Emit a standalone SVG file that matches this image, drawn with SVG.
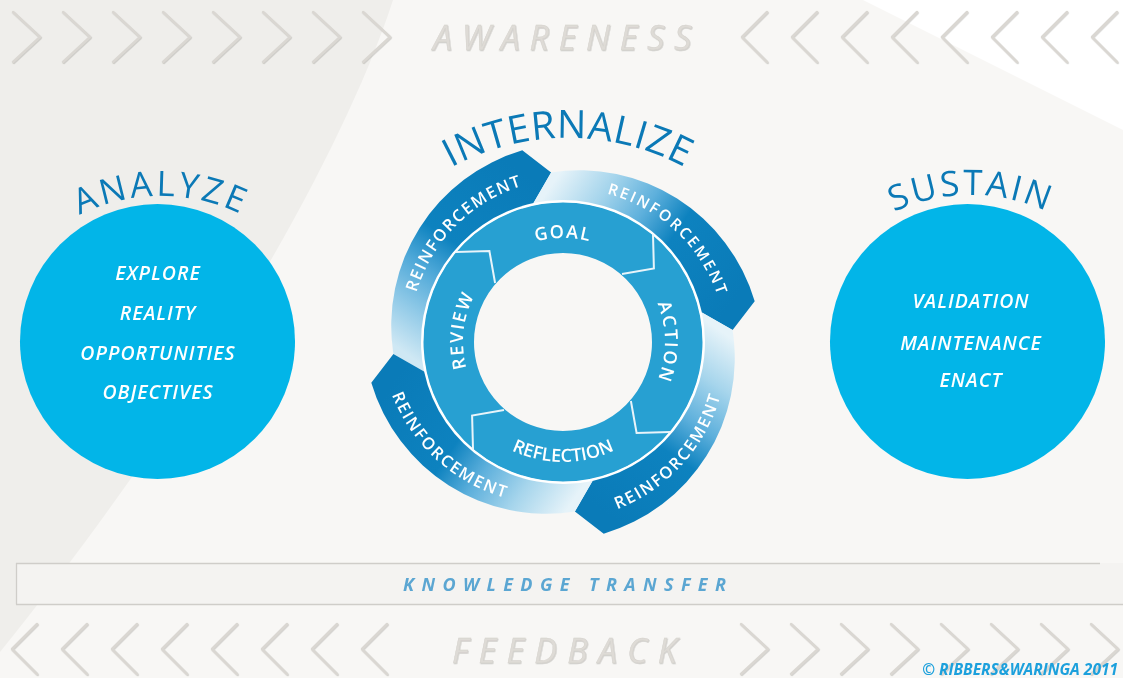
<svg xmlns="http://www.w3.org/2000/svg" xmlns:xlink="http://www.w3.org/1999/xlink" width="1123" height="678" viewBox="0 0 1123 678">
<defs>
<style>
.f{font-family:'Open Sans','Noto Sans','DejaVu Sans',sans-serif}
.chev{fill:none;stroke:#dad7d2;stroke-width:2.5;stroke-linecap:round;stroke-linejoin:round}
.ghost{font-family:'Open Sans','Noto Sans',sans-serif;font-style:italic;font-size:34px;fill:#dedbd6;stroke:#d3d0cb;stroke-width:0.4}
.title{font-family:'Open Sans','Noto Sans',sans-serif;font-weight:500;fill:#0b79b6}
.circ{fill:#02b5e8}
.ctext{font-family:'Open Sans','Noto Sans',sans-serif;font-style:italic;font-weight:600;font-size:19.5px;fill:#ffffff;letter-spacing:1px;text-anchor:middle}
.rtext{font-family:'Open Sans','Noto Sans',sans-serif;font-weight:600;font-size:18px;fill:#ffffff;text-anchor:middle}
.btext{font-family:'Open Sans','Noto Sans',sans-serif;font-weight:600;fill:#ffffff;text-anchor:middle}
.div{fill:none;stroke:#e8f4fa;stroke-width:2;stroke-linejoin:miter}
</style>
<filter id="sh" x="-20%" y="-20%" width="140%" height="140%">
<feDropShadow dx="0.7" dy="0.9" stdDeviation="0.5" flood-color="#9c9994" flood-opacity="0.45"/>
</filter>
<path id="chR" d="M0,0 L27,25 L0,50"/>
<path id="chL" d="M25,0 L0,25 L25,50"/>
<linearGradient id="gTL" gradientUnits="userSpaceOnUse" x1="405.4" y1="353" x2="527.7" y2="175.7">
<stop offset="0" stop-color="#cfe8f4"/><stop offset="0.18" stop-color="#93cbe8"/><stop offset="0.38" stop-color="#4ea8d8"/><stop offset="0.55" stop-color="#0d82bf"/><stop offset="1" stop-color="#0a7bb8"/>
</linearGradient>
<linearGradient id="gTR" gradientUnits="userSpaceOnUse" x1="552" y1="184.4" x2="729.3" y2="306.7">
<stop offset="0" stop-color="#e6f3f9"/><stop offset="0.22" stop-color="#a6d5ec"/><stop offset="0.42" stop-color="#5eb0dc"/><stop offset="0.6" stop-color="#0d82bf"/><stop offset="1" stop-color="#0a7bb8"/>
</linearGradient>
<linearGradient id="gBR" gradientUnits="userSpaceOnUse" x1="720.6" y1="331" x2="598.3" y2="508.3">
<stop offset="0" stop-color="#e6f3f9"/><stop offset="0.22" stop-color="#a6d5ec"/><stop offset="0.42" stop-color="#5eb0dc"/><stop offset="0.6" stop-color="#0d82bf"/><stop offset="1" stop-color="#0a7bb8"/>
</linearGradient>
<linearGradient id="gBL" gradientUnits="userSpaceOnUse" x1="574" y1="499.6" x2="396.7" y2="377.3">
<stop offset="0" stop-color="#e6f3f9"/><stop offset="0.22" stop-color="#a6d5ec"/><stop offset="0.42" stop-color="#5eb0dc"/><stop offset="0.6" stop-color="#0d82bf"/><stop offset="1" stop-color="#0a7bb8"/>
</linearGradient>
<path id="pAnalyze" d="M20.1,261.7 A184,184 0 0 1 301.9,261.7"/>
<path id="pSustain" d="M830.8,260.4 A183,183 0 0 1 1111.2,260.4"/>
<path id="pIntern" d="M426.9,182.5 A246,246 0 0 1 709.1,182.5"/>
<path id="pGoal" d="M496.1,262.3 A104,104 0 0 1 629.9,262.3"/>
<path id="pAction" d="M641.1,276.4 A102,102 0 0 1 641.1,407.6"/>
<path id="pReview" d="M479.6,397.2 A100,100 0 0 1 494.2,269.5"/>
<path id="pReflect" d="M471.1,419.1 A120,120 0 0 0 654.9,419.1"/>
<path id="tTL" d="M412.4,310 A158,158 0 0 1 540.4,181.6"/>
<path id="tTR" d="M589.7,190.3 A158,158 0 0 1 722.5,313.9"/>
<path id="tBR" d="M593.7,516.3 A171,171 0 0 0 725.5,370.6"/>
<path id="tBL" d="M383.8,367.2 A172,172 0 0 0 534.5,503.5"/>
</defs>

<g id="background">
<rect x="0" y="0" width="1123" height="678" fill="#f8f7f5"/>
<path d="M0,0 L393,0 C348,140 215,385 0,652 Z" fill="#efeeeb"/>
<path d="M863,0 L1123,0 L1123,130 Z" fill="#ffffff"/>
</g>

<g id="awareness-band" filter="url(#sh)">
<g class="chev">
<use href="#chR" x="13" y="12"/><use href="#chR" x="63" y="12"/><use href="#chR" x="113" y="12"/><use href="#chR" x="163" y="12"/>
<use href="#chR" x="213" y="12"/><use href="#chR" x="263" y="12"/><use href="#chR" x="313" y="12"/><use href="#chR" x="363" y="12"/>
<use href="#chL" x="742" y="12"/><use href="#chL" x="792" y="12"/><use href="#chL" x="842" y="12"/><use href="#chL" x="892" y="12"/>
<use href="#chL" x="942" y="12"/><use href="#chL" x="992" y="12"/><use href="#chL" x="1042" y="12"/><use href="#chL" x="1092" y="12"/>
</g>
<text class="ghost" x="433" y="50" letter-spacing="9.8">AWARENESS</text>
</g>

<g id="feedback-band" filter="url(#sh)">
<g class="chev">
<use href="#chL" x="12" y="624"/><use href="#chL" x="62" y="624"/><use href="#chL" x="112" y="624"/><use href="#chL" x="162" y="624"/>
<use href="#chL" x="212" y="624"/><use href="#chL" x="262" y="624"/><use href="#chL" x="312" y="624"/><use href="#chL" x="362" y="624"/>
<use href="#chR" x="741" y="624"/><use href="#chR" x="791" y="624"/><use href="#chR" x="841" y="624"/><use href="#chR" x="891" y="624"/>
<use href="#chR" x="941" y="624"/><use href="#chR" x="991" y="624"/><use href="#chR" x="1041" y="624"/><use href="#chR" x="1091" y="624"/>
</g>
<text class="ghost" x="452" y="663" letter-spacing="10.3">FEEDBACK</text>
</g>

<g id="knowledge-transfer">
<rect x="16" y="563" width="1107" height="41" fill="#f4f3f1"/>
<path d="M16,563.5 H1100 M16.5,563 V604.5 M16,604.5 H1123" fill="none" stroke="#cfcdc9" stroke-width="1.3"/>
<text class="f" x="403" y="591" font-size="18" font-weight="700" font-style="italic" fill="#5ba6d2" letter-spacing="7.4">KNOWLEDGE TRANSFER</text>
</g>

<g id="analyze">
<circle class="circ" cx="157.5" cy="341.5" r="137.5"/>
<text class="title" font-size="35" letter-spacing="3"><textPath href="#pAnalyze" startOffset="50%" text-anchor="middle">ANALYZE</textPath></text>
<text class="ctext" x="158" y="280">EXPLORE</text>
<text class="ctext" x="158" y="320">REALITY</text>
<text class="ctext" x="158" y="360">OPPORTUNITIES</text>
<text class="ctext" x="158" y="399">OBJECTIVES</text>
</g>

<g id="sustain">
<circle class="circ" cx="967.5" cy="341.5" r="137.5"/>
<text class="title" font-size="35" letter-spacing="2.5"><textPath href="#pSustain" startOffset="50%" text-anchor="middle">SUSTAIN</textPath></text>
<text class="ctext" x="971" y="308">VALIDATION</text>
<text class="ctext" x="971" y="350">MAINTENANCE</text>
<text class="ctext" x="971" y="387">ENACT</text>
</g>

<g id="internalize">
<text class="title" font-size="39" letter-spacing="0.6"><textPath href="#pIntern" startOffset="50%" text-anchor="middle">INTERNALIZE</textPath></text>
<g id="cycle">
<circle cx="563" cy="342" r="114.5" fill="none" stroke="#27a0d2" stroke-width="51"/>
<circle cx="563" cy="342" r="141" fill="none" stroke="#ffffff" stroke-width="3"/>
<polyline class="div" points="455.8,252 489.4,251.1 495.1,283"/>
<polyline class="div" points="653,234.8 653.9,268.4 622,274.1"/>
<polyline class="div" points="670.2,432 636.6,432.9 630.9,401"/>
<polyline class="div" points="473,449.2 472.1,415.6 504,409.9"/>
<text class="rtext" letter-spacing="1.5"><textPath href="#pGoal" startOffset="50%">GOAL</textPath></text>
<text class="rtext" letter-spacing="2"><textPath href="#pAction" startOffset="50%">ACTION</textPath></text>
<text class="rtext" letter-spacing="1.7"><textPath href="#pReview" startOffset="50%">REVIEW</textPath></text>
<text class="rtext" letter-spacing="0"><textPath href="#pReflect" startOffset="50%">REFLECTION</textPath></text>
</g>
</g>

<g id="connectors">
<g id="reinforcement-tl">
<path d="M424.1,371.5 L393.4,353.9 A183,183 0 0 1 522.3,150.3 L551.1,172.4 L533.5,203.1 A142,142 0 0 0 424.1,371.5 Z" fill="url(#gTL)"/>
<text class="btext" font-size="16.5" letter-spacing="1.6"><textPath href="#tTL" startOffset="50%">REINFORCEMENT</textPath></text>
</g>
<g id="reinforcement-tr">
<path d="M533.5,203.1 L551.1,172.4 A183,183 0 0 1 754.7,301.3 L732.6,330.1 L701.9,312.5 A142,142 0 0 0 533.5,203.1 Z" fill="url(#gTR)"/>
<text class="btext" font-size="15.5" letter-spacing="2.3"><textPath href="#tTR" startOffset="50%">REINFORCEMENT</textPath></text>
</g>
<g id="reinforcement-br">
<path d="M701.9,312.5 L732.6,330.1 A183,183 0 0 1 603.7,533.7 L574.9,511.6 L592.5,480.9 A142,142 0 0 0 701.9,312.5 Z" fill="url(#gBR)"/>
<text class="btext" font-size="16.5" letter-spacing="1.8"><textPath href="#tBR" startOffset="50%">REINFORCEMENT</textPath></text>
</g>
<g id="reinforcement-bl">
<path d="M592.5,480.9 L574.9,511.6 A183,183 0 0 1 371.3,382.7 L393.4,353.9 L424.1,371.5 A142,142 0 0 0 592.5,480.9 Z" fill="url(#gBL)"/>
<text class="btext" font-size="16.5" letter-spacing="1.8"><textPath href="#tBL" startOffset="50%">REINFORCEMENT</textPath></text>
</g>
</g>

<g id="copyright">
<text class="f" x="1118" y="675" font-size="15.5" font-weight="700" font-style="italic" fill="#1ca0dc" text-anchor="end">© RIBBERS&amp;WARINGA 2011</text>
</g>
</svg>
